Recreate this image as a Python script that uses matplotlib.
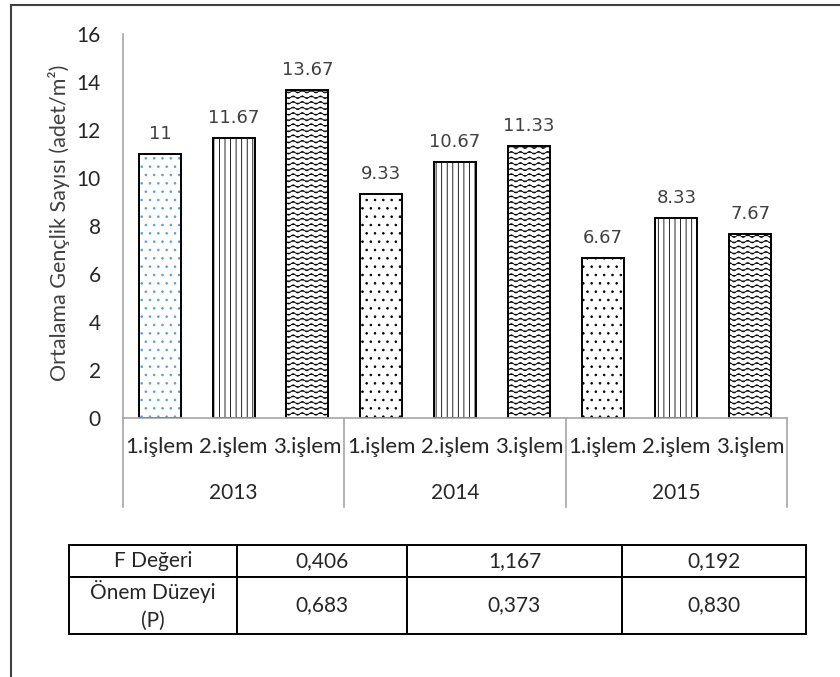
import warnings
import numpy as np
import matplotlib
matplotlib.use("Agg")
import matplotlib.pyplot as plt
import matplotlib.hatch as mhatch
import matplotlib.transforms as mtrans
from matplotlib.path import Path
from matplotlib.lines import Line2D

warnings.filterwarnings("ignore", category=matplotlib.MatplotlibDeprecationWarning)

# data
years = ["2013", "2014", "2015"]
treatments = ["1.işlem", "2.işlem", "3.işlem"]
values_2013 = [11, 11.67, 13.67]
values_2014 = [9.33, 10.67, 11.33]
values_2015 = [6.67, 8.33, 7.67]
f_values = ["0,406", "1,167", "0,192"]
p_values = ["0,683", "0,373", "0,830"]


# wavy hatch like the excel pattern fill
class WaveHatch(mhatch.HatchPatternBase):
    def __init__(self, hatch, density):
        self.num_rows = 18 * hatch.count('w')
        self.periods = 11
        self.pts = 8 * self.periods + 1
        self.num_vertices = self.num_rows * self.pts

    def set_vertices_and_codes(self, vertices, codes):
        x = np.linspace(0.0, 1.0, self.pts)
        amp = 0.013
        for i in range(self.num_rows):
            y0 = (i + 0.5) / self.num_rows
            sl = slice(i * self.pts, (i + 1) * self.pts)
            vertices[sl, 0] = x
            vertices[sl, 1] = y0 + amp * np.sin(2 * np.pi * self.periods * x)
            codes[sl] = Path.LINETO
            codes[i * self.pts] = Path.MOVETO


mhatch._hatch_types.append(WaveHatch)

plt.rcParams['hatch.linewidth'] = 0.6

fig = plt.figure(figsize=(8.4, 6.77), dpi=100)
ax = fig.add_axes([123 / 840, 1 - 418 / 677, 664 / 840, 384 / 677])

all_vals = values_2013 + values_2014 + values_2015
x = np.arange(len(all_vals))
hatches = ['..', '|||', 'w'] * 3
dot_colors = ['#5B9BD5'] + ['black'] * 8
bw = 0.57

for i, v in enumerate(all_vals):
    ax.bar(x[i], v, width=bw, color='white', edgecolor=dot_colors[i] if i % 3 == 0 else 'black',
           hatch=hatches[i], linewidth=0)
bars = ax.bar(x, all_vals, width=bw, fill=False, edgecolor='black', linewidth=1.4)
ax.bar_label(bars, labels=[f"{v:g}" for v in all_vals], padding=8,
             fontsize=13, color='#404040', family='DejaVu Sans')

ax.set_xlim(-0.5, len(all_vals) - 0.5)
ax.set_ylim(0, 16)
ax.set_yticks(range(0, 17, 2))
ax.tick_params(axis='y', length=0, pad=16, labelsize=15, labelcolor='#262626')
for lab in ax.get_yticklabels():
    lab.set_family('Lato')
ax.set_xticks([])

for s in ['top', 'right']:
    ax.spines[s].set_visible(False)
ax.spines['left'].set_color('#A6A6A6')
ax.spines['bottom'].set_color('#A6A6A6')
ax.spines['left'].set_linewidth(1.2)
ax.spines['bottom'].set_linewidth(1.2)

ax.set_ylabel("Ortalama Gençlik Sayısı (adet/m²)", fontsize=15.5, color='#404040', family='Lato')
ax.yaxis.set_label_coords(-0.08, 0.508)

# multi-level category axis
trans = mtrans.blended_transform_factory(ax.transData, ax.transAxes)
for i in x:
    ax.text(i, -0.076, treatments[i % 3], transform=trans, ha='center', va='center',
            fontsize=16, color='#262626', family='Lato')
for g, yr in enumerate(years):
    ax.text(3 * g + 1, -0.195, yr, transform=trans, ha='center', va='center',
            fontsize=15, color='#262626', family='Lato')
for b in [-0.5, 2.5, 5.5, 8.5]:
    ax.add_line(Line2D([b, b], [0, -0.232], transform=trans, color='#A6A6A6',
                       linewidth=1.2, clip_on=False))

# F / P table
tax = fig.add_axes([69 / 840, 1 - 634 / 677, 737 / 840, 89 / 677])
tax.axis('off')
cells = [["F Değeri"] + f_values, ["Önem Düzeyi\n(P)"] + p_values]
tbl = tax.table(cellText=cells, cellLoc='center', bbox=[0, 0, 1, 1],
                colWidths=[168, 170, 215, 184])
tbl.auto_set_font_size(False)
for (r, c), cell in tbl.get_celld().items():
    cell.set_height(32 if r == 0 else 57)
    cell.set_linewidth(1.4)
    cell.set_edgecolor('black')
    t = cell.get_text()
    t.set_fontsize(15)
    t.set_family('Lato')
    t.set_color('#262626')
    t.set_linespacing(1.45)

# outer frame (cut off at right / bottom)
fig.add_artist(Line2D([11 / 840, 11 / 840], [0, 1 - 5 / 677], color='#404040', linewidth=1.5))
fig.add_artist(Line2D([11 / 840, 1], [1 - 5 / 677, 1 - 5 / 677], color='#404040', linewidth=1.5))

fig.savefig("out.png", dpi=100)
